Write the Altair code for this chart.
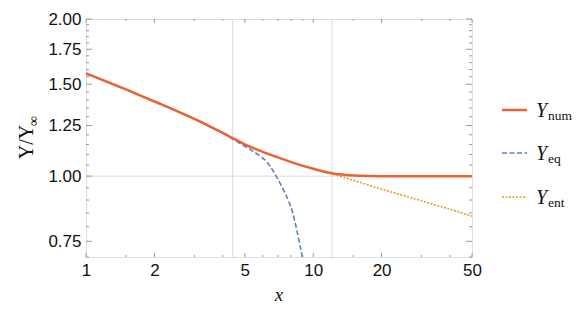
import altair as alt
import pandas as pd

# ---- data ----
x_num = [1, 1.5, 2, 2.5, 3, 3.5, 4, 4.42, 5, 5.5, 6, 7, 8, 10, 11, 12.1, 13, 14, 16, 18, 20, 30, 40, 50]
y_num = [1.574, 1.466, 1.39, 1.334, 1.287, 1.246, 1.210, 1.182, 1.151, 1.13, 1.113, 1.086, 1.064,
         1.033, 1.022, 1.013, 1.008, 1.005, 1.002, 1.0005, 1.0, 1.0, 1.0, 1.0]

x_eq = [1, 1.5, 2, 2.5, 3, 3.5, 4, 4.42, 4.8, 5.28, 5.8, 6.25, 6.7, 7.16, 7.5, 7.8, 8.1, 8.46, 8.7, 8.95, 9.1]
y_eq = [1.574, 1.466, 1.39, 1.334, 1.287, 1.246, 1.209, 1.179, 1.153, 1.125, 1.095, 1.065, 1.019, 0.968,
        0.93, 0.895, 0.855, 0.79, 0.745, 0.70, 0.67]

x_ent = [10, 11, 12.1, 15, 20, 25, 30, 40, 50]
y_ent = [1.035, 1.022, 1.010, 0.982, 0.944, 0.918, 0.897, 0.864, 0.838]

x_major = [1, 2, 5, 10, 20, 50]
x_minor = [1.5, 3, 4, 6, 7, 8, 9, 15, 30, 40]
y_major = [0.75, 1.00, 1.25, 1.50, 1.75, 2.00]
y_minor = [0.70, 0.80, 0.85, 0.90, 0.95, 1.05, 1.10, 1.15, 1.20, 1.30, 1.35, 1.40, 1.45,
           1.55, 1.60, 1.65, 1.70, 1.80, 1.85, 1.90, 1.95]
x_grid = [4.42, 12.1]
y_grid = [1.0]

legend_names = ["num", "eq", "ent"]

# ---- layout ----
W, H = 386, 238
C_NUM, C_EQ, C_ENT = "#EB6235", "#5E81B5", "#E19C24"
FRAME = "#9a9a9a"

xscale = alt.Scale(type="log", domain=[1, 50], nice=False, zero=False)
yscale = alt.Scale(type="log", domain=[0.70, 2.0], nice=False, zero=False)
xaxis = alt.Axis(values=x_major, format="d", title=None, domain=False, ticks=False, grid=False,
                 labelFont="Liberation Sans", labelFontSize=17, labelColor="#111", labelPadding=5,
                 labelFlush=False, labelOverlap=False)
yaxis = alt.Axis(values=y_major, format=".2f", title=None, domain=False, ticks=False, grid=False,
                 labelFont="Liberation Sans", labelFontSize=17, labelColor="#111", labelPadding=5,
                 labelFlush=False, labelOverlap=False)


def X(f):
    return alt.X(f"{f}:Q", scale=xscale, axis=xaxis)


def Y(f):
    return alt.Y(f"{f}:Q", scale=yscale, axis=yaxis)


one = pd.DataFrame({"a": [0]})

df_num = pd.DataFrame({"x": x_num, "y": y_num})
df_eq = pd.DataFrame({"x": x_eq, "y": y_eq})
df_ent = pd.DataFrame({"x": x_ent, "y": y_ent})

# grid
gx = alt.Chart(pd.DataFrame({"v": x_grid})).mark_rule(color="#dcdcdc", strokeWidth=1).encode(x=X("v"))
gy = alt.Chart(pd.DataFrame({"v": y_grid})).mark_rule(color="#dcdcdc", strokeWidth=1).encode(y=Y("v"))


# ticks (inward, all four sides)
def xticks(vals, ln):
    d = pd.DataFrame({"v": vals})
    b = alt.Chart(d).mark_rule(color=FRAME, strokeWidth=1).encode(x=X("v"), y=alt.value(H), y2=alt.value(H - ln))
    t = alt.Chart(d).mark_rule(color=FRAME, strokeWidth=1).encode(x=X("v"), y=alt.value(0), y2=alt.value(ln))
    return [b, t]


def yticks(vals, ln):
    d = pd.DataFrame({"v": vals})
    l = alt.Chart(d).mark_rule(color=FRAME, strokeWidth=1).encode(y=Y("v"), x=alt.value(0), x2=alt.value(ln))
    r = alt.Chart(d).mark_rule(color=FRAME, strokeWidth=1).encode(y=Y("v"), x=alt.value(W), x2=alt.value(W - ln))
    return [l, r]


ticks = xticks(x_major, 4) + xticks(x_minor, 2) + yticks(y_major, 6) + yticks(y_minor, 3)

# curves
l_ent = alt.Chart(df_ent).mark_line(color=C_ENT, strokeWidth=1.6, strokeDash=[2, 1.5], clip=True,
                                    interpolate="monotone").encode(x=X("x"), y=Y("y"))
l_eq = alt.Chart(df_eq).mark_line(color=C_EQ, strokeWidth=1.6, strokeDash=[5, 2.5], clip=True,
                                  interpolate="monotone").encode(x=X("x"), y=Y("y"))
l_num = alt.Chart(df_num).mark_line(color=C_NUM, strokeWidth=2.5, clip=True,
                                    interpolate="monotone").encode(x=X("x"), y=Y("y"))

# legend (drawn by hand for the subscripted labels)
leg = []
rows = [(91, C_NUM, None), (134, C_EQ, [5, 2.5]), (178, C_ENT, [2, 1.5])]
for (ry, col, dash), name in zip(rows, legend_names):
    kw = dict(color=col, strokeWidth=2.5 if dash is None else 1.6)
    if dash is not None:
        kw["strokeDash"] = dash
    leg.append(alt.Chart(one).mark_rule(**kw).encode(x=alt.value(416), x2=alt.value(441), y=alt.value(ry)))
    leg.append(alt.Chart(one).mark_text(text="Y", font="Liberation Serif", fontStyle="italic", fontSize=20,
                                        align="left", baseline="alphabetic", color="#111")
               .encode(x=alt.value(450), y=alt.value(ry + 7)))
    leg.append(alt.Chart(one).mark_text(text=name, font="Liberation Serif", fontSize=13.5,
                                        align="left", baseline="alphabetic", color="#111")
               .encode(x=alt.value(462), y=alt.value(ry + 10)))

# axis titles
tx = alt.Chart(one).mark_text(text="x", font="Liberation Serif", fontStyle="italic", fontSize=19,
                              align="center", baseline="alphabetic", color="#111").encode(
    x=alt.value(W / 2), y=alt.value(282))
ty = alt.Chart(one).mark_text(text="Y/Y", font="Liberation Serif", fontSize=20, angle=270,
                              align="center", baseline="alphabetic", color="#111").encode(
    x=alt.value(-53), y=alt.value(123))
tinf = alt.Chart(one).mark_text(text="∞", font="Liberation Serif", fontSize=14, angle=270,
                                align="left", baseline="alphabetic", color="#111").encode(
    x=alt.value(-48), y=alt.value(107))

chart = alt.layer(gx, gy, *ticks, l_ent, l_eq, l_num, *leg, tx, ty, tinf).properties(
    width=W, height=H,
    autosize=alt.AutoSizeParams(type="none"),
    padding={"left": 78, "top": 11, "right": 100, "bottom": 50},
).configure_view(stroke=FRAME, strokeWidth=1).configure(background="white")

chart.save("out.html", embed_options={"renderer": "svg", "actions": False})
